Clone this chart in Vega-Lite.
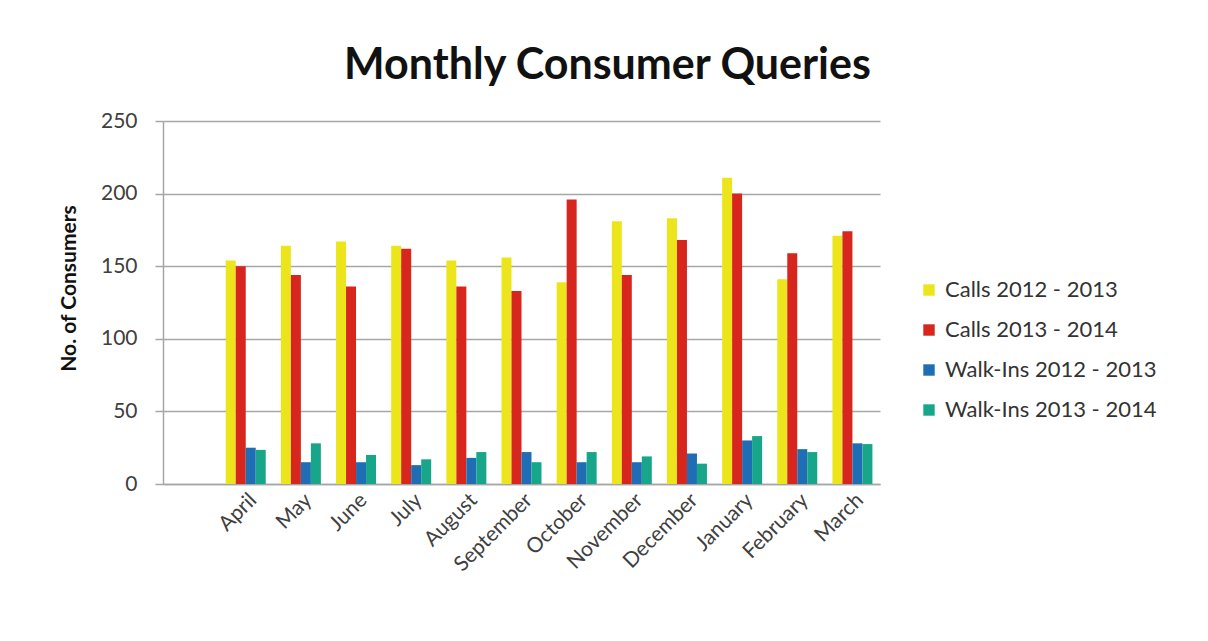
{
  "$schema": "https://vega.github.io/schema/vega-lite/v6.json",
  "autosize": {"type": "none"},
  "width": 717,
  "height": 363,
  "padding": {"left": 163, "top": 121, "right": 328, "bottom": 157},
  "background": "white",
  "title": {
    "text": "Monthly Consumer Queries",
    "font": "Lato",
    "fontSize": 43,
    "fontWeight": "bold",
    "color": "#111111",
    "anchor": "middle",
    "dx": 86,
    "offset": 22
  },
  "data": {
    "values": [
      {"month": "April", "series": "Calls 2012 - 2013", "value": 154},
      {"month": "April", "series": "Calls 2013 - 2014", "value": 150},
      {"month": "April", "series": "Walk-Ins 2012 - 2013", "value": 25},
      {"month": "April", "series": "Walk-Ins 2013 - 2014", "value": 23.5},
      {"month": "May", "series": "Calls 2012 - 2013", "value": 164},
      {"month": "May", "series": "Calls 2013 - 2014", "value": 144},
      {"month": "May", "series": "Walk-Ins 2012 - 2013", "value": 15},
      {"month": "May", "series": "Walk-Ins 2013 - 2014", "value": 28},
      {"month": "June", "series": "Calls 2012 - 2013", "value": 167},
      {"month": "June", "series": "Calls 2013 - 2014", "value": 136},
      {"month": "June", "series": "Walk-Ins 2012 - 2013", "value": 15},
      {"month": "June", "series": "Walk-Ins 2013 - 2014", "value": 20},
      {"month": "July", "series": "Calls 2012 - 2013", "value": 164},
      {"month": "July", "series": "Calls 2013 - 2014", "value": 162},
      {"month": "July", "series": "Walk-Ins 2012 - 2013", "value": 13},
      {"month": "July", "series": "Walk-Ins 2013 - 2014", "value": 17},
      {"month": "August", "series": "Calls 2012 - 2013", "value": 154},
      {"month": "August", "series": "Calls 2013 - 2014", "value": 136},
      {"month": "August", "series": "Walk-Ins 2012 - 2013", "value": 18},
      {"month": "August", "series": "Walk-Ins 2013 - 2014", "value": 22},
      {"month": "September", "series": "Calls 2012 - 2013", "value": 156},
      {"month": "September", "series": "Calls 2013 - 2014", "value": 133},
      {"month": "September", "series": "Walk-Ins 2012 - 2013", "value": 22},
      {"month": "September", "series": "Walk-Ins 2013 - 2014", "value": 15},
      {"month": "October", "series": "Calls 2012 - 2013", "value": 139},
      {"month": "October", "series": "Calls 2013 - 2014", "value": 196},
      {"month": "October", "series": "Walk-Ins 2012 - 2013", "value": 15},
      {"month": "October", "series": "Walk-Ins 2013 - 2014", "value": 22},
      {"month": "November", "series": "Calls 2012 - 2013", "value": 181},
      {"month": "November", "series": "Calls 2013 - 2014", "value": 144},
      {"month": "November", "series": "Walk-Ins 2012 - 2013", "value": 15},
      {"month": "November", "series": "Walk-Ins 2013 - 2014", "value": 19},
      {"month": "December", "series": "Calls 2012 - 2013", "value": 183},
      {"month": "December", "series": "Calls 2013 - 2014", "value": 168},
      {"month": "December", "series": "Walk-Ins 2012 - 2013", "value": 21},
      {"month": "December", "series": "Walk-Ins 2013 - 2014", "value": 14},
      {"month": "January", "series": "Calls 2012 - 2013", "value": 211},
      {"month": "January", "series": "Calls 2013 - 2014", "value": 200},
      {"month": "January", "series": "Walk-Ins 2012 - 2013", "value": 30},
      {"month": "January", "series": "Walk-Ins 2013 - 2014", "value": 33},
      {"month": "February", "series": "Calls 2012 - 2013", "value": 141},
      {"month": "February", "series": "Calls 2013 - 2014", "value": 159},
      {"month": "February", "series": "Walk-Ins 2012 - 2013", "value": 24},
      {"month": "February", "series": "Walk-Ins 2013 - 2014", "value": 22},
      {"month": "March", "series": "Calls 2012 - 2013", "value": 171},
      {"month": "March", "series": "Calls 2013 - 2014", "value": 174},
      {"month": "March", "series": "Walk-Ins 2012 - 2013", "value": 28},
      {"month": "March", "series": "Walk-Ins 2013 - 2014", "value": 27.5}
    ]
  },
  "mark": {"type": "bar"},
  "encoding": {
    "x": {
      "field": "month",
      "type": "nominal",
      "scale": {
        "domain": ["", "April", "May", "June", "July", "August", "September", "October", "November", "December", "January", "February", "March"],
        "paddingInner": 0.275,
        "paddingOuter": 0.1375
      },
      "axis": {
        "title": null,
        "labelAngle": -45,
        "labelFont": "Lato",
        "labelFontSize": 21,
        "labelColor": "#404040",
        "labelPadding": 5,
        "ticks": false,
        "domainColor": "#a6a6a6",
        "domainWidth": 1.5,
        "grid": false
      }
    },
    "xOffset": {
      "field": "series",
      "type": "nominal",
      "sort": ["Calls 2012 - 2013", "Calls 2013 - 2014", "Walk-Ins 2012 - 2013", "Walk-Ins 2013 - 2014"],
      "scale": {"paddingInner": 0, "paddingOuter": 0}
    },
    "y": {
      "field": "value",
      "type": "quantitative",
      "scale": {"domain": [0, 250], "nice": false},
      "axis": {
        "title": "No. of Consumers",
        "titleFont": "Lato",
        "titleFontSize": 21,
        "titleFontWeight": "bold",
        "titleColor": "#111111",
        "titlePadding": 21,
        "titleY": 167,
        "values": [0, 50, 100, 150, 200, 250],
        "labelFont": "Lato",
        "labelFontSize": 21,
        "labelColor": "#404040",
        "labelPadding": 18,
        "tickSize": 8,
        "tickColor": "#a6a6a6",
        "tickWidth": 1.5,
        "domainColor": "#a6a6a6",
        "domainWidth": 1.5,
        "gridColor": "#a6a6a6",
        "gridWidth": 1.5
      }
    },
    "color": {
      "field": "series",
      "type": "nominal",
      "sort": ["Calls 2012 - 2013", "Calls 2013 - 2014", "Walk-Ins 2012 - 2013", "Walk-Ins 2013 - 2014"],
      "scale": {
        "domain": ["Calls 2012 - 2013", "Calls 2013 - 2014", "Walk-Ins 2012 - 2013", "Walk-Ins 2013 - 2014"],
        "range": ["#ede51b", "#d7261e", "#1f6db5", "#17a68a"]
      },
      "legend": {
        "title": null,
        "orient": "none",
        "legendX": 755,
        "legendY": 158,
        "symbolType": "square",
        "symbolSize": 130,
        "symbolStrokeWidth": 0,
        "labelFont": "Lato",
        "labelFontSize": 22,
        "labelColor": "#333333",
        "labelLimit": 400,
        "rowPadding": 18,
        "labelOffset": 5
      }
    }
  },
  "config": {"view": {"stroke": null}}
}
